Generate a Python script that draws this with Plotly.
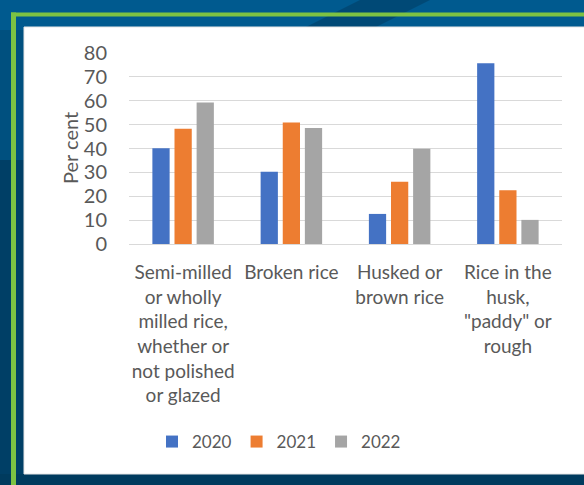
import plotly.graph_objects as go

categories = ["Semi-milled<br>or wholly<br>milled rice,<br>whether or<br>not polished<br>or glazed",
              "Broken rice",
              "Husked or<br>brown rice",
              "Rice in the<br>husk,<br>\"paddy\" or<br>rough"]
cat_keys = ["Semi-milled", "Broken", "Husked", "Paddy"]
years = ["2020", "2021", "2022"]
values_2020 = [40.1, 30.3, 12.6, 75.7]
values_2021 = [48.3, 50.9, 26.1, 22.5]
values_2022 = [59.3, 48.6, 39.9, 10.1]
colors = ["#4472c4", "#ed7d31", "#a5a5a5"]
y_ticks = [0, 10, 20, 30, 40, 50, 60, 70, 80]

W, H = 584, 485
L, R, T, B = 129, 22, 53, 241
pw, ph = W - L - R, H - T - B

def px(x):
    return (x - L) / pw

def py(y):
    return (H - B - y) / ph

fig = go.Figure()
for name, vals, c in zip(years, [values_2020, values_2021, values_2022], colors):
    fig.add_trace(go.Bar(x=cat_keys, y=vals, name=name, marker=dict(color=c, line=dict(width=0))))

font = "Lato, 'Open Sans', sans-serif"
shapes = [
    dict(type="rect", xref="paper", yref="paper", x0=px(0), x1=px(W), y0=py(0), y1=py(H), fillcolor="#00507f", line=dict(width=0), layer="below"),
    dict(type="rect", xref="paper", yref="paper", x0=px(0), x1=px(W), y0=py(0), y1=py(30), fillcolor="#005a8f", line=dict(width=0), layer="below"),
    dict(type="path", xref="paper", yref="paper",
         path=f"M {px(300)},{py(30)} L {px(360)},{py(0)} L {px(430)},{py(0)} L {px(370)},{py(30)} Z",
         fillcolor="#003e66", line=dict(width=0), layer="below", opacity=0.6),
    dict(type="rect", xref="paper", yref="paper", x0=px(0), x1=px(24), y0=py(160), y1=py(H), fillcolor="#003f66", line=dict(width=0), layer="below"),
    dict(type="rect", xref="paper", yref="paper", x0=px(0), x1=px(W), y0=py(474), y1=py(H), fillcolor="#003b5e", line=dict(width=0), layer="below"),
    dict(type="rect", xref="paper", yref="paper", x0=px(11), x1=px(W), y0=py(16.5), y1=py(12.5), fillcolor="#7dc243", line=dict(width=0), layer="below"),
    dict(type="rect", xref="paper", yref="paper", x0=px(11), x1=px(16), y0=py(H), y1=py(12.5), fillcolor="#7dc243", line=dict(width=0), layer="below"),
    dict(type="rect", xref="paper", yref="paper", x0=px(24), x1=px(W + 5), y0=py(474), y1=py(27), fillcolor="#ffffff", line=dict(color="#e6e6e6", width=1), layer="below"),
]

fig.update_layout(
    width=W, height=H,
    margin=dict(l=L, r=R, t=T, b=B),
    paper_bgcolor="#00507f",
    plot_bgcolor="rgba(0,0,0,0)",
    barmode="group",
    bargap=0.387,
    bargroupgap=0.22,
    font=dict(family=font, size=19, color="#595959"),
    shapes=shapes,
    showlegend=True,
    legend=dict(orientation="h", x=px(279), y=py(442), xanchor="center", yanchor="middle",
                font=dict(size=17, color="#595959"), itemwidth=30, traceorder="normal",
                bgcolor="rgba(0,0,0,0)"),
    annotations=[dict(text="Per cent", xref="paper", yref="paper", x=px(70), y=py(148),
                      xanchor="center", yanchor="middle", textangle=-90, showarrow=False,
                      font=dict(size=20, color="#595959", family=font))],
)
fig.update_xaxes(tickmode="array", tickvals=cat_keys, ticktext=categories,
                 ticks="outside", ticklen=11, tickcolor="rgba(0,0,0,0)",
                 showline=True, linecolor="#d9d9d9", linewidth=1,
                 tickfont=dict(size=19, color="#595959"))
fig.update_yaxes(range=[0, 80], tickvals=y_ticks, showgrid=True, gridcolor="#d9d9d9", gridwidth=1,
                 zeroline=False, ticks="outside", ticklen=17, tickcolor="rgba(0,0,0,0)",
                 tickfont=dict(size=20, color="#595959"))

fig.write_html("out.html")
